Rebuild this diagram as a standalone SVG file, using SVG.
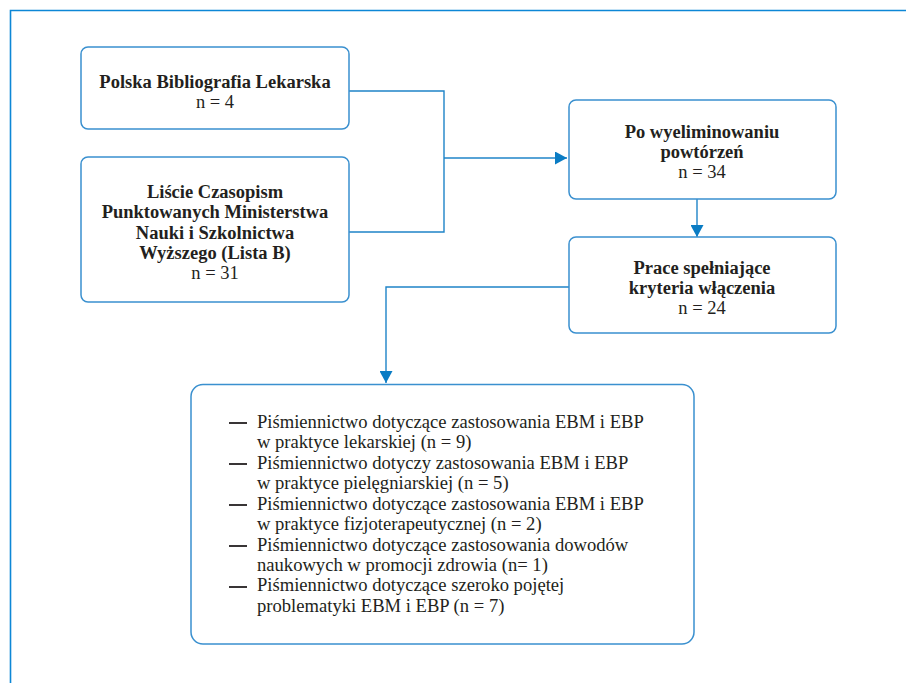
<svg xmlns="http://www.w3.org/2000/svg" width="906" height="683" viewBox="0 0 906 683" font-family="Liberation Serif, Times New Roman, serif">
<defs>
<style>
.box{fill:#fff;stroke:#3a90cf;stroke-width:1.5}
.frame{fill:none;stroke:#0d87d6;stroke-width:1.6}
.conn{fill:none;stroke:#1f84c8;stroke-width:1.4}
.t{font-family:"Liberation Serif","Times New Roman",serif;fill:#231f20;text-anchor:middle;font-size:18.5px}
.b{font-weight:bold}
.l{font-family:"Liberation Serif","Times New Roman",serif;fill:#231f20;font-size:18.6px}
.dash{stroke:#231f20;stroke-width:1.8}
</style>
<marker id="ah" markerWidth="12" markerHeight="13" refX="12" refY="6.5" orient="auto" markerUnits="userSpaceOnUse">
<path d="M0,0 L12,6.5 L0,13 Z" fill="#0a7cc4"/>
</marker>
</defs>
<rect width="906" height="683" fill="#fff"/>
<path class="frame" d="M10.5,683 V10.5 H906"/>
<g id="connectors">
<path class="conn" d="M349,91 H444 V232 H349"/>
<path class="conn" d="M444,158 H567" marker-end="url(#ah)"/>
<path class="conn" d="M697,199 V237" marker-end="url(#ah)"/>
<path class="conn" d="M569,287 H386 V383" marker-end="url(#ah)"/>
</g>
<g id="n1">
<rect class="box" x="81" y="47" width="268" height="82" rx="7"/>
<text class="t b" x="215" y="88">Polska Bibliografia Lekarska</text>
<text class="t" x="215" y="108">n = 4</text>
</g>
<g id="n2">
<rect class="box" x="81" y="157" width="268" height="145" rx="7"/>
<text class="t b" x="215" y="198">Liście Czasopism</text>
<text class="t b" x="215" y="218">Punktowanych Ministerstwa</text>
<text class="t b" x="215" y="239">Nauki i Szkolnictwa</text>
<text class="t b" x="215" y="259">Wyższego (Lista B)</text>
<text class="t" x="215" y="279">n = 31</text>
</g>
<g id="n3">
<rect class="box" x="569" y="100" width="267" height="99" rx="7"/>
<text class="t b" x="702" y="138">Po wyeliminowaniu</text>
<text class="t b" x="702" y="158">powtórzeń</text>
<text class="t" x="702" y="178">n = 34</text>
</g>
<g id="n4">
<rect class="box" x="569" y="237" width="267" height="96" rx="7"/>
<text class="t b" x="702" y="274">Prace spełniające</text>
<text class="t b" x="702" y="294">kryteria włączenia</text>
<text class="t" x="702" y="314">n = 24</text>
</g>
<g id="n5">
<rect class="box" x="191" y="384.5" width="503" height="259.5" rx="12"/>
<line class="dash" x1="229" y1="423" x2="247" y2="423"/>
<line class="dash" x1="229" y1="464" x2="247" y2="464"/>
<line class="dash" x1="229" y1="505" x2="247" y2="505"/>
<line class="dash" x1="229" y1="546" x2="247" y2="546"/>
<line class="dash" x1="229" y1="587" x2="247" y2="587"/>
<text class="l" x="257" y="428">Piśmiennictwo dotyczące zastosowania EBM i EBP</text>
<text class="l" x="257" y="448.4">w praktyce lekarskiej (n = 9)</text>
<text class="l" x="257" y="468.8">Piśmiennictwo dotyczy zastosowania EBM i EBP</text>
<text class="l" x="257" y="489.2">w praktyce pielęgniarskiej (n = 5)</text>
<text class="l" x="257" y="509.6">Piśmiennictwo dotyczące zastosowania EBM i EBP</text>
<text class="l" x="257" y="530">w praktyce fizjoterapeutycznej (n = 2)</text>
<text class="l" x="257" y="550.6">Piśmiennictwo dotyczące zastosowania dowodów</text>
<text class="l" x="257" y="571">naukowych w promocji zdrowia (n= 1)</text>
<text class="l" x="257" y="591.4">Piśmiennictwo dotyczące szeroko pojętej</text>
<text class="l" x="257" y="611.8">problematyki EBM i EBP (n = 7)</text>
</g>
</svg>
